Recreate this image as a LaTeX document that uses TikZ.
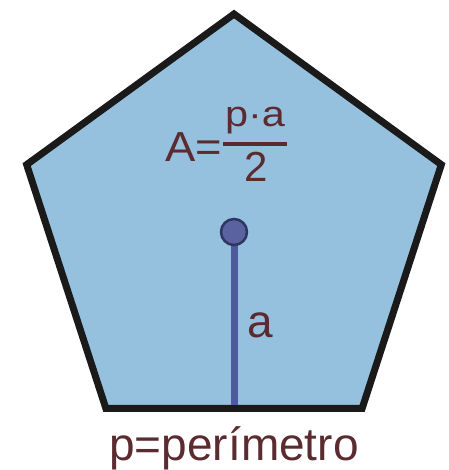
\documentclass[tikz,border=0pt]{standalone}
\usepackage{fontspec}
\setmainfont{Liberation Sans}
\usetikzlibrary{shapes.geometric}
\definecolor{PentFill}{HTML}{96C1DE}
\definecolor{PentEdge}{HTML}{1A1A1A}
\definecolor{ApoBlue}{HTML}{4D5A9C}
\definecolor{DotBlue}{HTML}{5B62A0}
\definecolor{DotEdge}{HTML}{2E3560}
\definecolor{TextRed}{HTML}{5B2B30}

\begin{document}
\begin{tikzpicture}[
  x=1pt, y=-1pt,
  pent/.style={regular polygon, regular polygon sides=5, draw=PentEdge,
               line width=7pt, fill=PentFill, minimum size=#1,
               inner sep=0pt, outer sep=0pt},
  apo/.style={line width=7pt, color=ApoBlue},
  centre/.style={circle, draw=DotEdge, line width=2.5pt, fill=DotBlue,
                 minimum size=26pt, inner sep=0pt},
  frm/.style={font=\fontsize{#1}{#1}\selectfont, color=TextRed, inner sep=0pt},
  lbl/.style={font=\fontsize{46}{46}\selectfont, color=TextRed, inner sep=0pt},
  fracbar/.style={line width=4.5pt, color=TextRed}
]
  \useasboundingbox (0,0) rectangle (448,470);

  % Pentagon
  \node[pent=436pt] (p5) at (234,232) {};

  % Apothem
  \draw[apo, shorten >=3.5pt] (p5.center) -- (p5.side 3);
  \node[centre] (o) at (p5.center) {};
  \node[lbl, anchor=base west] (alab) at (247,337) {a};

  % Area formula
  \node[frm=42, anchor=base west] (lhs) at (165,162) {\scalebox{1.08}[1]{A=}};
  \node[frm=36, anchor=base] (num) at (255,127) {\scalebox{1.15}[1]{p·a}};
  \draw[fracbar] (223,144) -- (287,144);
  \node[frm=42, anchor=base] (den) at (256,182) {2};

  % Caption
  \node[lbl, anchor=base] (cap) at (234,460) {p=perímetro};
\end{tikzpicture}
\end{document}
